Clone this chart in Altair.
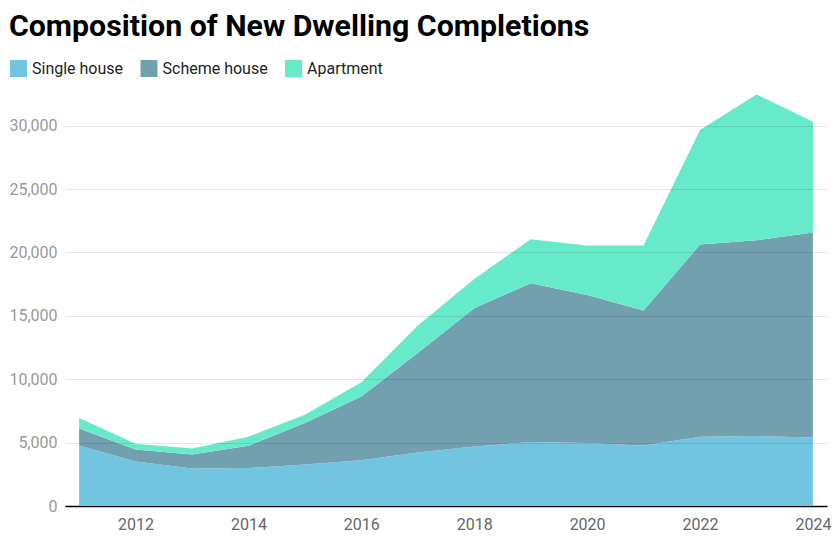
import altair as alt
import pandas as pd

years = list(range(2011, 2025))
single_house = [4780, 3520, 2960, 2990, 3280, 3600, 4220, 4700, 5040, 4960, 4780, 5460, 5520, 5410]
scheme_house = [1340, 940, 1110, 1760, 3260, 5040, 7840, 10900, 12540, 11690, 10640, 15160, 15450, 16160]
apartment = [820, 450, 470, 710, 660, 1130, 2180, 2300, 3470, 3890, 5120, 9040, 11500, 8740]

categories = ["Single house", "Scheme house", "Apartment"]
colors = ["#72C5E0", "#73A0AF", "#66EACA"]

rows = []
for i, y in enumerate(years):
    for k, (name, vals) in enumerate(zip(categories, [single_house, scheme_house, apartment])):
        rows.append({"year": y, "type": name, "value": vals[i], "ord": k})
df = pd.DataFrame(rows)

chart = alt.Chart(df).mark_area(opacity=1).encode(
    x=alt.X("year:Q",
            scale=alt.Scale(domain=[2010.75, 2024.25], nice=False, zero=False),
            axis=alt.Axis(values=list(range(2012, 2025, 2)), format="d", title=None,
                          grid=False, ticks=False, domain=True, domainColor="#000000",
                          domainWidth=1.5, labelColor="#666666", labelFontSize=16,
                          labelFont="Roboto", labelPadding=10)),
    y=alt.Y("value:Q", stack="zero",
            scale=alt.Scale(domain=[0, 32500], nice=False),
            axis=alt.Axis(values=[0, 5000, 10000, 15000, 20000, 25000, 30000], format=",.0f",
                          title=None, domain=False, ticks=False, grid=True,
                          gridColor="#000000", gridOpacity=0.1, zindex=1,
                          labelColor="#999999", labelFontSize=16, labelFont="Roboto",
                          labelPadding=8)),
    color=alt.Color("type:N",
                    scale=alt.Scale(domain=categories, range=colors),
                    legend=alt.Legend(title=None, orient="none", legendX=-55, legendY=-34,
                                      direction="horizontal", columns=3,
                                      symbolType="square", symbolSize=289,
                                      symbolStrokeWidth=0, symbolOpacity=1,
                                      labelFontSize=16, labelFont="Roboto",
                                      labelColor="#222222", labelOffset=5,
                                      columnPadding=16.5)),
    order=alt.Order("ord:Q"),
).properties(
    width=762,
    height=412,
    autosize=alt.AutoSizeParams(type="none"),
    padding={"left": 57, "top": 86, "right": 5, "bottom": 36},
    title=alt.Title("Composition of New Dwelling Completions", anchor="start",
                    font="Roboto", fontSize=30.3, fontWeight="bold", color="#000000",
                    offset=18),
).configure_view(stroke=None)

chart.save("out.html", embed_options={"renderer": "svg", "actions": False})
